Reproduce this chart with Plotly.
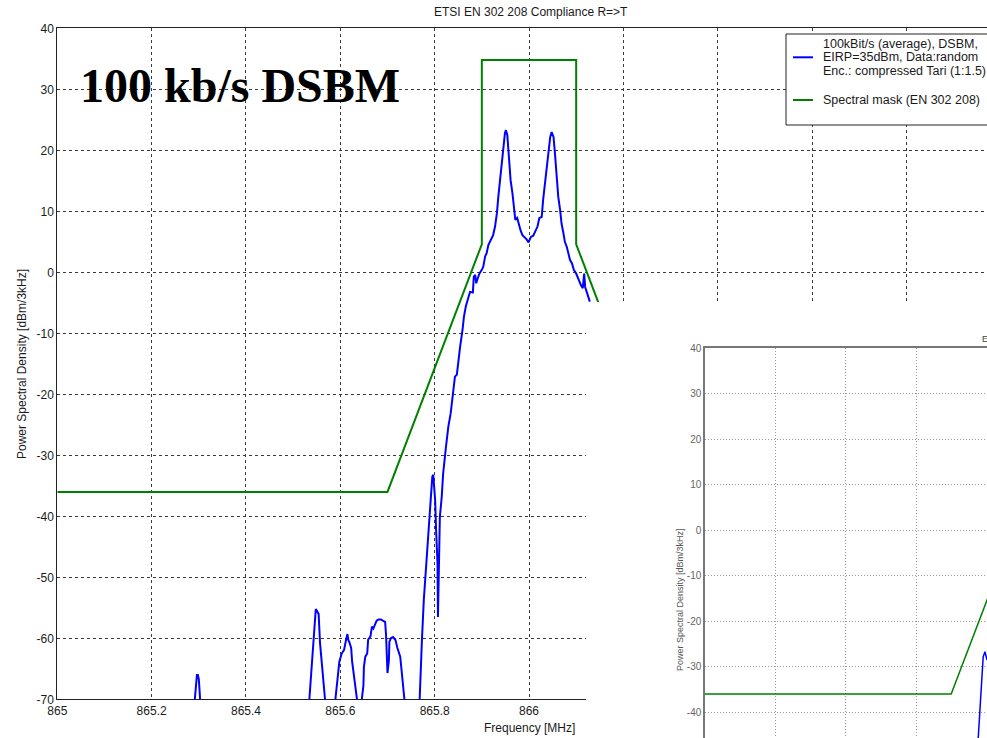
import plotly.graph_objects as go

W, H = 987, 738

# ---------------- data ----------------
# spectral mask EN 302 208
mask_f = [865.0, 865.7, 865.9, 865.9, 866.1, 866.1, 866.3, 867.0]
mask_p = [-36.0, -36.0, 4.6, 34.8, 34.8, 4.6, -36.0, -36.0]

# measured PSD, 100 kbit/s DSBM (segments that are visible above -70 dBm)
seg1_f = [865.291, 865.294, 865.296, 865.298, 865.300, 865.302, 865.303]
seg1_p = [-70.5, -68.0, -66.0, -66.0, -66.7, -69.0, -70.5]

seg2_f = [865.534, 865.539, 865.543, 865.546, 865.548, 865.551, 865.554, 865.557,
          865.561, 865.564, 865.568]
seg2_p = [-70.4, -64.7, -60.3, -56.0, -55.2, -55.6, -56.0, -60.8, -64.7, -66.9, -70.4]

seg3_f = [865.589, 865.592, 865.598, 865.603, 865.608, 865.612, 865.615, 865.617,
          865.619, 865.623, 865.625, 865.631, 865.636]
seg3_p = [-70.4, -67.9, -63.8, -62.5, -61.9, -60.3, -59.3, -60.3, -60.6, -61.6,
          -63.8, -67.4, -70.4]

seg4_f = [865.645, 865.649, 865.650, 865.653, 865.657, 865.659, 865.664, 865.667,
          865.670, 865.674, 865.677, 865.681, 865.686, 865.690, 865.695, 865.697,
          865.698, 865.700, 865.703, 865.704, 865.707, 865.712, 865.717, 865.721,
          865.727, 865.731, 865.736]
seg4_p = [-70.4, -67.7, -64.7, -63.0, -62.5, -60.2, -59.7, -58.1, -58.4, -57.5,
          -57.1, -56.9, -56.9, -57.1, -57.3, -59.5, -63.0, -65.7, -63.6, -60.6,
          -60.0, -59.8, -60.3, -61.6, -63.0, -65.7, -70.1]

seg5_f = [865.768, 865.770, 865.773, 865.777, 865.782, 865.787, 865.790, 865.792,
          865.795, 865.797, 865.799, 865.801, 865.803, 865.806, 865.807, 865.809,
          865.811, 865.815, 865.818, 865.824, 865.829, 865.834, 865.838, 865.843,
          865.847, 865.850, 865.854, 865.859, 865.862, 865.866, 865.871, 865.875,
          865.881, 865.883, 865.886, 865.888, 865.890, 865.895, 865.900, 865.903,
          865.907, 865.910, 865.914, 865.917, 865.921, 865.924, 865.928, 865.932,
          865.935, 865.939, 865.942, 865.946, 865.949, 865.951, 865.954, 865.956,
          865.958, 865.961, 865.965, 865.968, 865.971, 865.975, 865.979, 865.982,
          865.986, 865.990, 865.995, 865.999, 866.004, 866.009, 866.014, 866.018,
          866.022, 866.027, 866.030, 866.034, 866.038, 866.041, 866.045, 866.048,
          866.052, 866.055, 866.059, 866.062, 866.066, 866.069, 866.073, 866.076,
          866.080, 866.083, 866.087, 866.091, 866.095, 866.100, 866.105, 866.110,
          866.114, 866.117, 866.119, 866.122, 866.126, 866.129]
seg5_p = [-70.4, -65.2, -60.3, -53.7, -48.3, -42.8, -39.5, -36.8, -33.5, -33.2,
          -35.7, -37.3, -42.2, -47.7, -56.5, -46.6, -40.1, -36.8, -33.0, -28.6,
          -25.3, -23.1, -20.4, -17.1, -16.8, -14.4, -12.2, -9.5, -7.3, -5.6,
          -4.0, -3.2, -3.3, -0.7, -0.4, -1.8, -1.3, -0.2, 0.4, 0.9,
          2.6, 3.1, 4.5, 5.0, 5.6, 6.1, 7.5, 9.7, 12.4, 15.7,
          18.4, 20.6, 22.8, 23.3, 22.5, 20.6, 17.3, 15.1, 12.9, 10.8,
          8.6, 8.9, 7.5, 6.9, 6.1, 5.8, 5.4, 4.9, 5.8, 6.0,
          6.7, 7.5, 8.9, 9.1, 11.9, 14.6, 17.9, 20.0, 22.2, 23.0,
          22.2, 19.5, 15.7, 12.4, 10.2, 8.0, 6.4, 5.0, 4.2, 3.1,
          2.0, 1.5, 0.4, -0.2, -1.3, -2.1, -2.6, -0.2, -2.4, -3.2,
          -4.0, -4.8]

# second (overlapping) chart: visible part of its PSD trace
inset_f = [865.775, 865.791, 865.796, 865.802]
inset_p = [-48.0, -27.8, -26.7, -28.5]

x_ticks = [865.0, 865.2, 865.4, 865.6, 865.8, 866.0, 866.2, 866.4, 866.6, 866.8]
x_ticktext = ["865", "865.2", "865.4", "865.6", "865.8", "866", "866.2", "866.4", "866.6", "866.8"]
y_ticks = [40, 30, 20, 10, 0, -10, -20, -30, -40, -50, -60, -70]
y_ticktext = ["40", "30", "20", "10", "0", "-10", "-20", "-30", "-40", "-50", "-60", "-70"]
inset_y_ticks = [40, 30, 20, 10, 0, -10, -20, -30, -40]
inset_y_ticktext = ["40", "30", "20", "10", "0", "-10", "-20", "-30", "-40"]

title_text = "ETSI EN 302 208 Compliance R=>T"
ylabel_text = "Power Spectral Density [dBm/3kHz]"
xlabel_text = "Frequency [MHz]"
legend_lines = ["100kBit/s (average), DSBM,", "EIRP=35dBm, Data:random",
                "Enc.: compressed Tari (1:1.5)"]
legend_mask = "Spectral mask (EN 302 208)"
big_label = "100 kb/s DSBM"

# ---------------- helpers ----------------
def xp(px):
    return px / W

def yp(py):
    return 1 - py / H

psd_f, psd_p = [], []
for f_seg, p_seg in [(seg1_f, seg1_p), (seg2_f, seg2_p), (seg3_f, seg3_p),
                     (seg4_f, seg4_p), (seg5_f, seg5_p)]:
    psd_f += f_seg + [None]
    psd_p += p_seg + [None]

SANS = "Liberation Sans, Arial, sans-serif"
TXT = "#1a1a1a"
BLUE = "#0000ff"
GREEN = "#008000"

fig = go.Figure()
# main chart
fig.add_trace(go.Scatter(x=psd_f, y=psd_p, mode="lines", line=dict(color=BLUE, width=2),
                         connectgaps=False, showlegend=False, hoverinfo="skip"))
fig.add_trace(go.Scatter(x=mask_f, y=mask_p, mode="lines", line=dict(color=GREEN, width=2),
                         showlegend=False, hoverinfo="skip"))
# white cover (the second picture pasted over the first)
fig.add_trace(go.Scatter(x=[None], y=[None], xaxis="x2", yaxis="y2",
                         showlegend=False, hoverinfo="skip"))
# second chart
fig.add_trace(go.Scatter(x=mask_f, y=mask_p, mode="lines", xaxis="x3", yaxis="y3",
                         line=dict(color=GREEN, width=1.5), showlegend=False, hoverinfo="skip"))
fig.add_trace(go.Scatter(x=inset_f, y=inset_p, mode="lines", xaxis="x3", yaxis="y3",
                         line=dict(color=BLUE, width=1.5), showlegend=False, hoverinfo="skip"))

x0_px, x_scale = 57.3, 471.7
y_top_px, y_bot_px = 28.3, 699.3

grid_main = dict(showgrid=True, gridcolor="#3a3a3a", gridwidth=1, griddash="3px,3px",
                 zeroline=False, ticks="", showline=True, linecolor="#222", linewidth=1,
                 automargin=False, tickfont=dict(family=SANS, size=12, color=TXT))

fig.update_layout(
    width=W, height=H, autosize=False,
    margin=dict(l=0, r=0, t=0, b=0, pad=0),
    paper_bgcolor="white", plot_bgcolor="white",
    font=dict(family=SANS, color=TXT),
    xaxis=dict(domain=[xp(x0_px), 1], range=[865.0, 865.0 + (W - x0_px) / x_scale],
               tickvals=x_ticks, ticktext=x_ticktext, mirror=True, anchor="y",
               **grid_main),
    yaxis=dict(domain=[yp(y_bot_px), yp(y_top_px)], range=[-70, 40], tickvals=y_ticks,
               ticktext=y_ticktext, mirror=False, anchor="x", **grid_main),
    xaxis2=dict(domain=[xp(586), 1], range=[0, 1], visible=False, anchor="y2",
                automargin=False),
    yaxis2=dict(domain=[0, yp(302)], range=[0, 1], visible=False, anchor="x2",
                automargin=False),
    xaxis3=dict(domain=[xp(705), 1], range=[865.0, 865.0 + (W - 705) / 351.7],
                anchor="y3", side="top", showline=True, linecolor="#777", linewidth=1.5,
                ticks="", showticklabels=False, tickvals=x_ticks, automargin=False,
                showgrid=True, gridcolor="#999", griddash="1px,2px", zeroline=False),
    yaxis3=dict(domain=[0, yp(348.3)], range=[-40 - (H - 712.3) / 4.55, 40],
                anchor="x3", showline=True, linecolor="#777", linewidth=1.5, ticks="",
                tickvals=inset_y_ticks, ticktext=inset_y_ticktext,
                tickfont=dict(family=SANS, size=10, color="#666"),
                automargin=False,
                showgrid=True, gridcolor="#999", griddash="1px,2px", zeroline=False),
)

ann = []
def add_text(text, px, py, size, color=TXT, family=SANS, xanchor="center", **kw):
    ann.append(dict(text=text, x=xp(px), y=yp(py), xref="paper", yref="paper",
                    xanchor=xanchor, yanchor="middle", showarrow=False,
                    font=dict(family=family, size=size, color=color), **kw))

add_text(title_text, 531, 12, 12)
add_text(xlabel_text, 529, 728, 12)
add_text(ylabel_text, 22, 364, 12, textangle=-90)
add_text("<b>" + big_label + "</b>", 78, 86, 48, color="black",
         family="Liberation Serif, Times New Roman, serif", xanchor="left")
for i, line in enumerate(legend_lines):
    add_text(line, 821, 43.5 + 13.7 * i, 12.5, xanchor="left")
add_text(legend_mask, 821, 100, 12.5, xanchor="left")
# second chart texts
add_text(title_text, 980, 339, 9, color="#444", xanchor="left")
add_text(ylabel_text, 680, 600, 9, color="#555", textangle=-90)

shapes = [
    dict(type="rect", xref="paper", yref="paper", x0=xp(786), x1=1.02, y0=yp(125), y1=yp(34),
         fillcolor="white", line=dict(color="#222", width=1), layer="above"),
    dict(type="line", xref="paper", yref="paper", x0=xp(793), x1=xp(813), y0=yp(57.3),
         y1=yp(57.3), line=dict(color=BLUE, width=2), layer="above"),
    dict(type="line", xref="paper", yref="paper", x0=xp(793), x1=xp(813), y0=yp(100),
         y1=yp(100), line=dict(color=GREEN, width=2), layer="above"),
]
fig.update_layout(annotations=ann, shapes=shapes)

fig.write_html("out.html", config={"displayModeBar": False},
               post_script="document.body.style.margin='0px';"
                           "document.body.style.overflow='hidden';")
